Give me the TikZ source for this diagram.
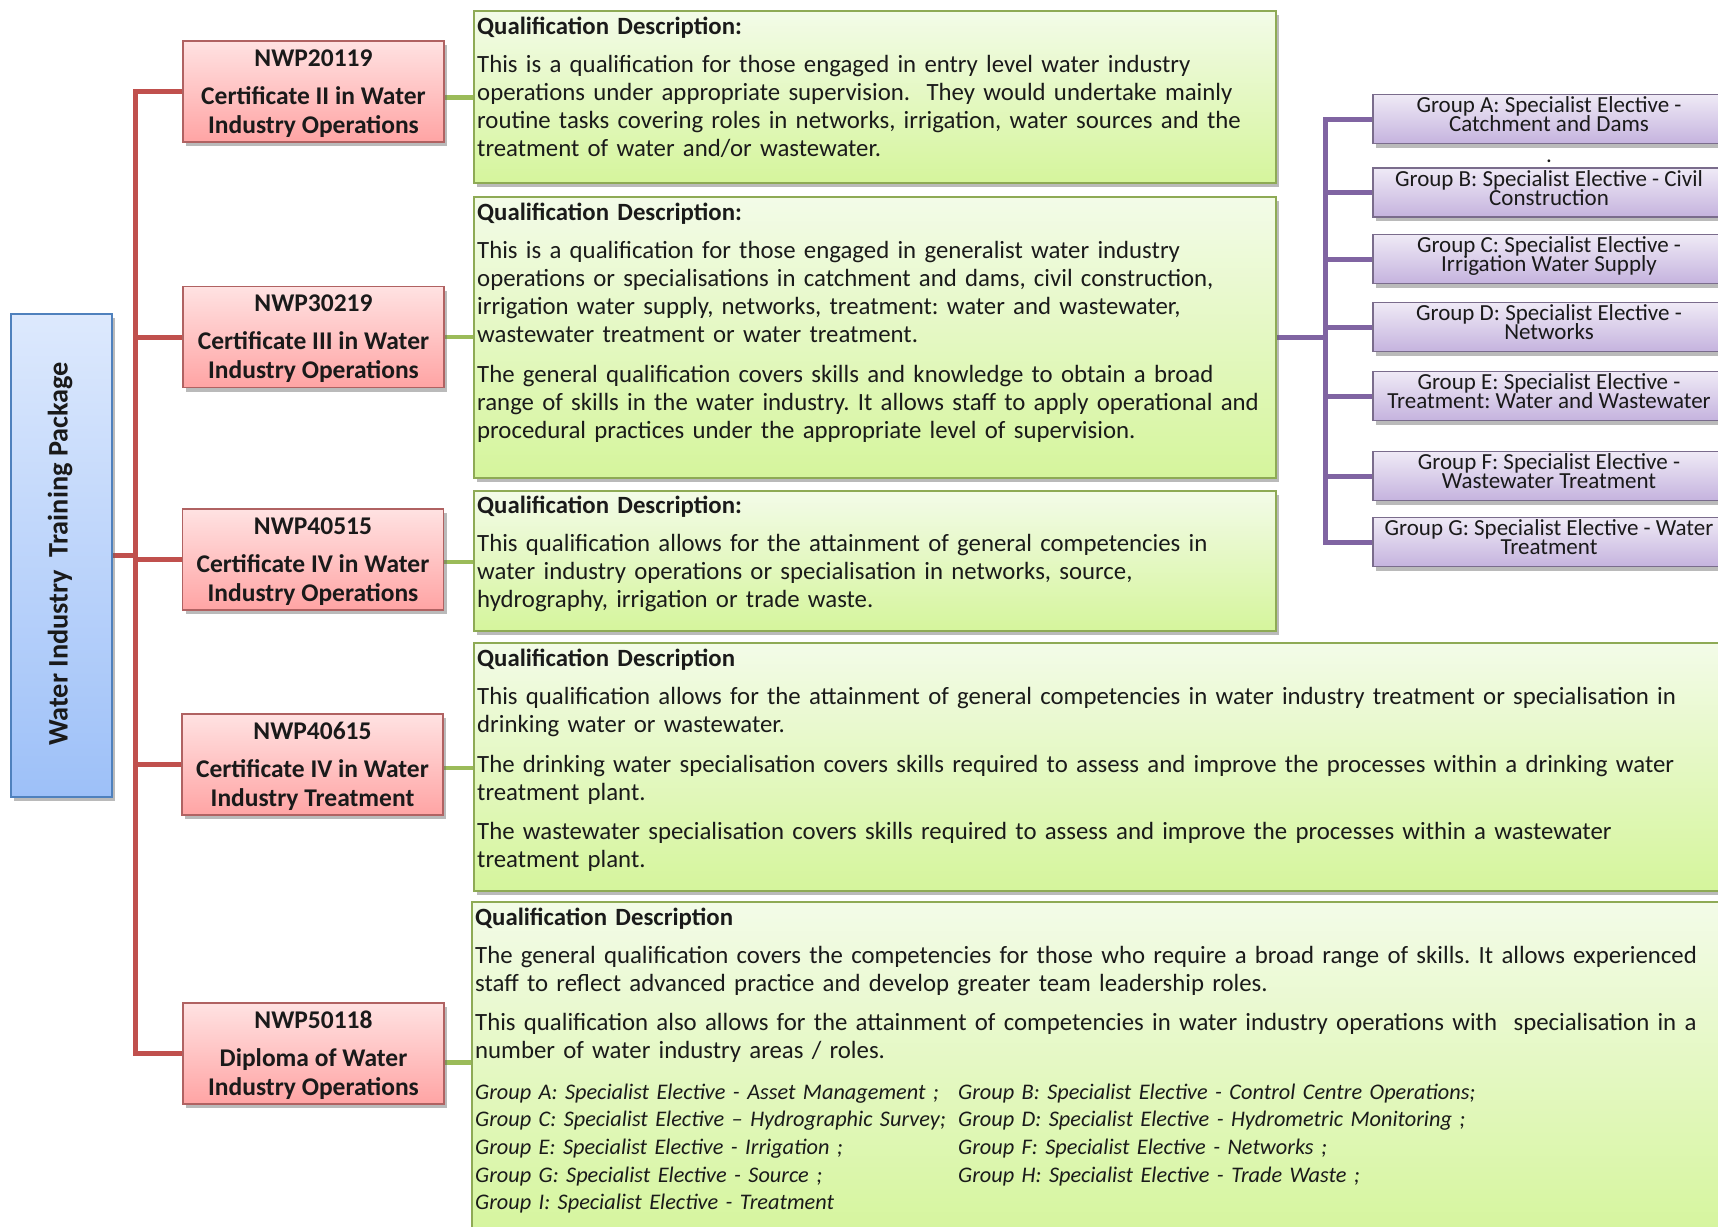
\documentclass[tikz,border=0pt]{standalone}
\usepackage{fontspec}
\setmainfont{Carlito}
\usetikzlibrary{shadows,backgrounds}
\definecolor{redline}{HTML}{C0504D}
\definecolor{redborder}{HTML}{B06262}
\definecolor{redtop}{HTML}{FFE2E2}
\definecolor{redbot}{HTML}{FFA4A4}
\definecolor{greenline}{HTML}{9BBB59}
\definecolor{greenborder}{HTML}{8EAA55}
\definecolor{greentop}{HTML}{F3FBE8}
\definecolor{greenbot}{HTML}{D5F59C}
\definecolor{purpleline}{HTML}{8064A2}
\definecolor{purpleborder}{HTML}{7A6C8C}
\definecolor{purpletop}{HTML}{EFEAF6}
\definecolor{purplebot}{HTML}{C5B3DE}
\definecolor{bluetop}{HTML}{DDE9FD}
\definecolor{bluebot}{HTML}{9DC0F8}
\definecolor{blueborder}{HTML}{4F81BD}
\definecolor{txt}{HTML}{1A1A1A}
\newcommand\tightlines{\lineskiplimit=-50pt\relax\lineskip=0pt\relax}
\newcommand\purplefont{\fontsize{23}{19}\selectfont\tightlines}
\frenchspacing
\begin{document}
\begin{tikzpicture}[x=1pt,y=-1pt,
  shadowed/.style={drop shadow={shadow xshift=3pt,shadow yshift=-4pt,opacity=0.45,fill=black!60}},
  bluebox/.style={shadowed,draw=blueborder,line width=1.5pt,top color=bluetop,bottom color=bluebot,minimum width=101pt,minimum height=483pt,inner sep=0pt},
  redbox/.style={shadowed,draw=redborder,line width=1.5pt,top color=redtop,bottom color=redbot,minimum width=261pt,minimum height=101pt,inner sep=0pt,align=center,text=txt,text depth=0.5pt,font=\fontsize{25.5}{29}\selectfont\bfseries\frenchspacing},
  greenbox/.style={shadowed,draw=greenborder,line width=1.5pt,top color=greentop,bottom color=greenbot,inner sep=0pt},
  purplebox/.style={shadowed,draw=purpleborder,line width=1.5pt,top color=purpletop,bottom color=purplebot,minimum width=352pt,minimum height=49pt,inner sep=0pt,align=center,text=txt,text depth=9pt,font=\purplefont},
  gtext/.style={anchor=base west,inner sep=0pt,text width=1240pt,align=left,text=txt,font=\fontsize{24.8}{28}\selectfont\frenchspacing},
  itext/.style={anchor=base west,inner sep=0pt,text width=600pt,align=left,text=txt,font=\fontsize{22.3}{27.7}\selectfont\itshape\frenchspacing},
  redconn/.style={draw=redline,line width=5pt,line join=miter},
  greenconn/.style={draw=greenline,line width=4.5pt},
  purpleconn/.style={draw=purpleline,line width=5pt,line join=miter}
]
\useasboundingbox (0,0) rectangle (1718,1226);

% root
\node[bluebox] (blue) at (61.5,555.5) {};
\node[rotate=90,inner sep=0pt,text=txt,font=\fontsize{28.3}{30}\selectfont\bfseries] (bluetext) at (60,554) {Water Industry\ \ Training Package};

% qualification boxes
\node[redbox] (r1) at (313.5,91.5) {NWP20119\\[9pt]Certificate II in Water\\Industry Operations};
\node[redbox] (r2) at (313.5,337) {NWP30219\\[9pt]Certificate III in Water\\Industry Operations};
\node[redbox] (r3) at (313,559.5) {NWP40515\\[9pt]Certificate IV in Water\\Industry Operations};
\node[redbox] (r4) at (312.5,764.5) {NWP40615\\[9pt]Certificate IV in Water\\Industry Treatment};
\node[redbox] (r5) at (313.5,1053.5) {NWP50118\\[9pt]Diploma of Water\\Industry Operations};

% description boxes
\node[greenbox,minimum width=802pt,minimum height=172pt] (g1) at (875,97) {};
\node[greenbox,minimum width=802pt,minimum height=281pt] (g2) at (875,337.5) {};
\node[greenbox,minimum width=802pt,minimum height=140pt] (g3) at (875,561) {};
\node[greenbox,minimum width=1256pt,minimum height=248pt] (g4) at (1102,767) {};
\node[greenbox,minimum width=1258pt,minimum height=338pt] (g5) at (1101,1071) {};

\node[gtext] (t1) at (477,34) {\textbf{Qualification Description:}\\[10.5pt]
This is a qualification for those engaged in entry level water industry\\
operations under appropriate supervision.\ \ They would undertake mainly\\
routine tasks covering roles in networks, irrigation, water sources and the\\
treatment of water and/or wastewater.};

\node[gtext] (t2) at (477,220) {\textbf{Qualification Description:}\\[10.5pt]
This is a qualification for those engaged in generalist water industry\\
operations or specialisations in catchment and dams, civil construction,\\
irrigation water supply, networks, treatment: water and wastewater,\\
wastewater treatment or water treatment.\\[11.5pt]
The general qualification covers skills and knowledge to obtain a broad\\
range of skills in the water industry. It allows staff to apply operational and\\
procedural practices under the appropriate level of supervision.};

\node[gtext] (t3) at (477,513) {\textbf{Qualification Description:}\\[10.5pt]
This qualification allows for the attainment of general competencies in\\
water industry operations or specialisation in networks, source,\\
hydrography, irrigation or trade waste.};

\node[gtext] (t4) at (477,666) {\textbf{Qualification Description}\\[10.5pt]
This qualification allows for the attainment of general competencies in water industry treatment or specialisation in\\
drinking water or wastewater.\\[11.5pt]
The drinking water specialisation covers skills required to assess and improve the processes within a drinking water\\
treatment plant.\\[11.5pt]
The wastewater specialisation covers skills required to assess and improve the processes within a wastewater\\
treatment plant.};

\node[gtext] (t5) at (475,925) {\textbf{Qualification Description}\\[10.5pt]
The general qualification covers the competencies for those who require a broad range of skills. It allows experienced\\
staff to reflect advanced practice and develop greater team leadership roles.\\[10.5pt]
This qualification also allows for the attainment of competencies in water industry operations with\ \ specialisation in a\\
number of water industry areas / roles.};

\node[itext] (i1) at (475,1099) {Group A: Specialist Elective - Asset Management ;\\
Group C: Specialist Elective – Hydrographic Survey;\\
Group E: Specialist Elective - Irrigation ;\\
Group G: Specialist Elective - Source ;\\
Group I: Specialist Elective - Treatment};
\node[itext] (i2) at (958,1099) {Group B: Specialist Elective - Control Centre Operations;\\
Group D: Specialist Elective - Hydrometric Monitoring ;\\
Group F: Specialist Elective - Networks ;\\
Group H: Specialist Elective - Trade Waste ;};

% elective groups
\node[purplebox] (pa) at (1549,119) {Group A: Specialist Elective -\\Catchment and Dams};
\node[purplebox] (pb) at (1549,192.5) {Group B: Specialist Elective - Civil\\Construction};
\node[purplebox] (pc) at (1549,259) {Group C: Specialist Elective -\\Irrigation Water Supply};
\node[purplebox] (pd) at (1549,327) {Group D: Specialist Elective -\\Networks};
\node[purplebox] (pe) at (1549,396) {Group E: Specialist Elective -\\Treatment: Water and Wastewater};
\node[purplebox] (pf) at (1549,476) {Group F: Specialist Elective -\\Wastewater Treatment};
\node[purplebox] (pg) at (1549,542) {Group G: Specialist Elective - Water\\Treatment};
\node[inner sep=0pt,text=txt,font=\fontsize{23}{19}\selectfont] (dot) at (1549,161) {.};

\coordinate (rtx) at (135,555.5);
\coordinate (ptx) at (1325,337.5);

\begin{pgfonlayer}{background}
\draw[redconn] (r1.west) -| (rtx) |- (r5.west);
\draw[redconn] (blue.east) -- (rtx);
\draw[redconn] (rtx |- r2.west) -- (r2.west);
\draw[redconn] (rtx |- r3.west) -- (r3.west);
\draw[redconn] (rtx |- r4.west) -- (r4.west);
\draw[greenconn] ([yshift=-6pt]r1.east) -- ([yshift=-6pt]r1.east -| g1.west);
\draw[greenconn] (r2.east) -- (r2.east -| g2.west);
\draw[greenconn] ([yshift=-2.5pt]r3.east) -- ([yshift=-2.5pt]r3.east -| g3.west);
\draw[greenconn] ([yshift=-3.5pt]r4.east) -- ([yshift=-3.5pt]r4.east -| g4.west);
\draw[greenconn] ([yshift=-9pt]r5.east) -- ([yshift=-9pt]r5.east -| g5.west);
\draw[purpleconn] (pa.west) -| (ptx) |- (pg.west);
\draw[purpleconn] (g2.east) -- (ptx);
\draw[purpleconn] (ptx |- pb.west) -- (pb.west);
\draw[purpleconn] (ptx |- pc.west) -- (pc.west);
\draw[purpleconn] (ptx |- pd.west) -- (pd.west);
\draw[purpleconn] (ptx |- pe.west) -- (pe.west);
\draw[purpleconn] (ptx |- pf.west) -- (pf.west);
\end{pgfonlayer}
\end{tikzpicture}
\end{document}
